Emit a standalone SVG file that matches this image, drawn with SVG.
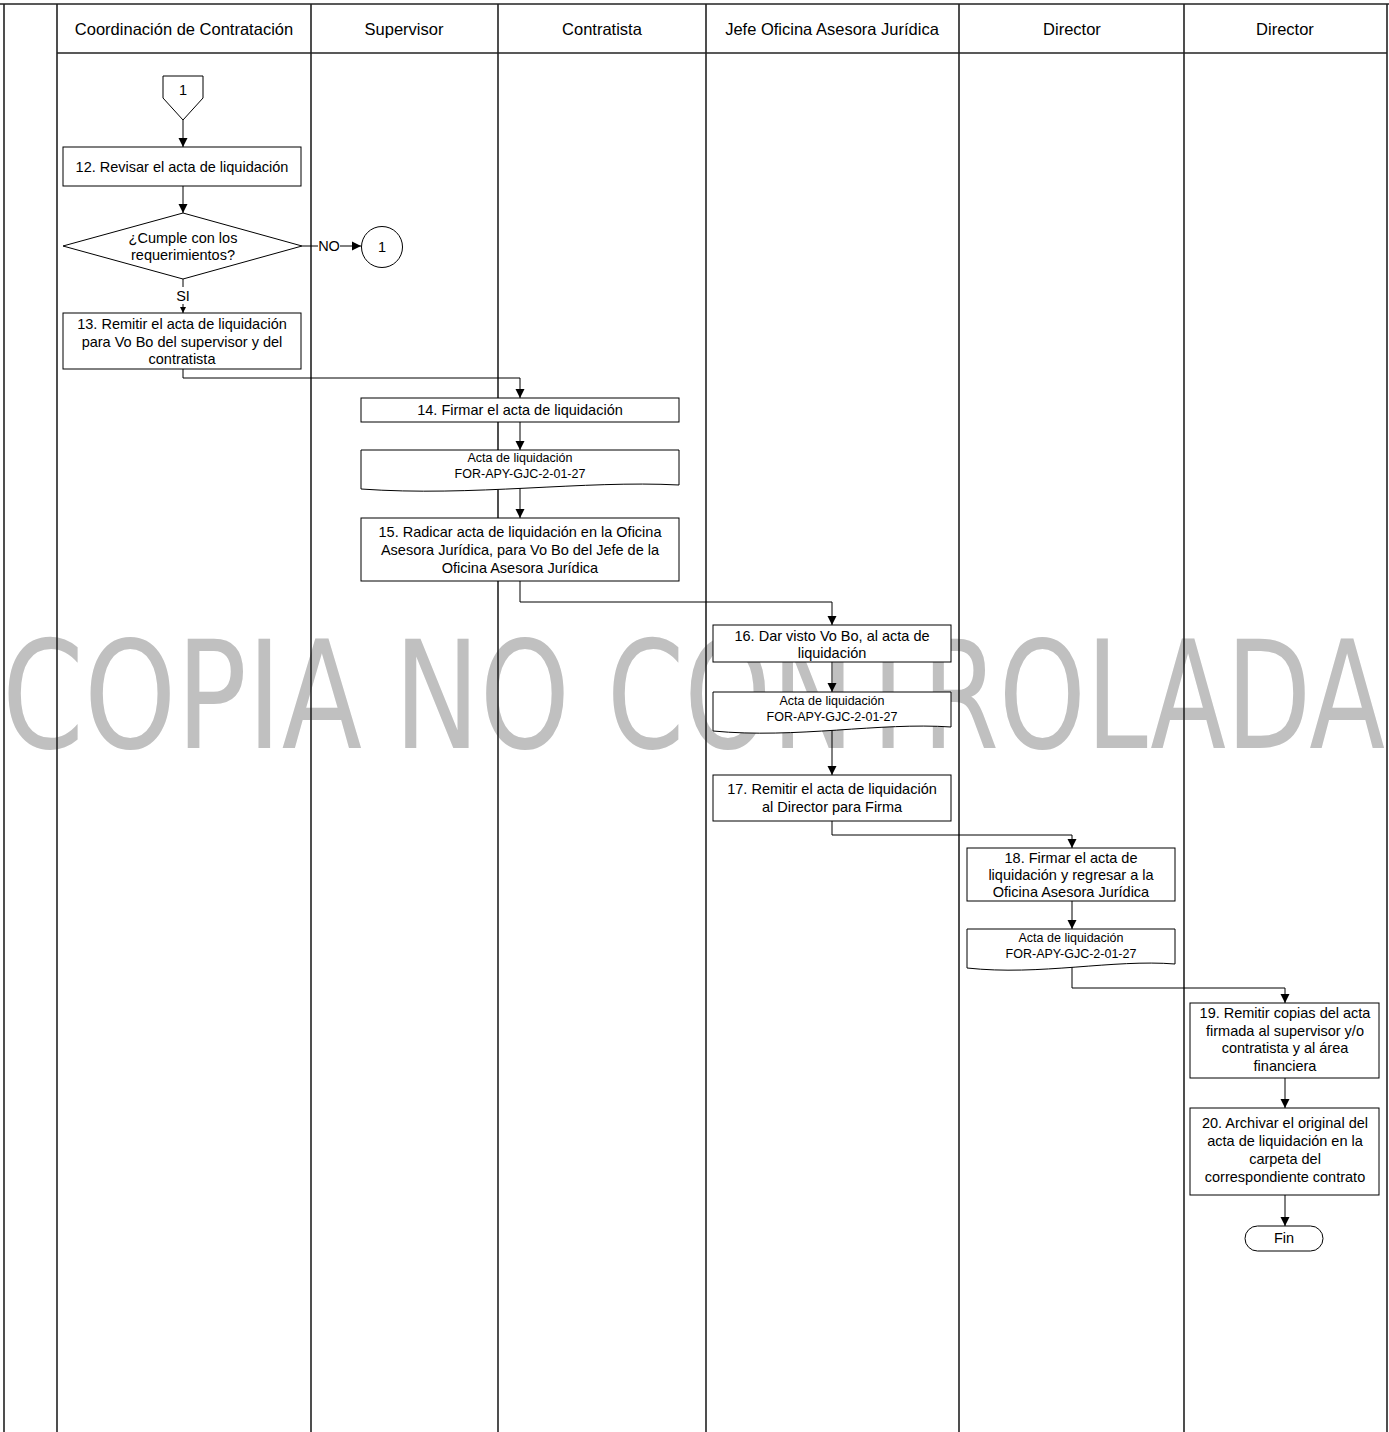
<svg xmlns="http://www.w3.org/2000/svg" width="1389" height="1432" viewBox="0 0 1389 1432">
<style>
.lane{stroke:#222;stroke-width:1.6;fill:none}
.hd{font-family:"Liberation Sans",Arial,sans-serif;font-size:16.5px;fill:#000;text-anchor:middle}
.box{fill:#fff;stroke:#000;stroke-width:1}
.t{font-family:"Liberation Sans",Arial,sans-serif;font-size:14.5px;fill:#000;text-anchor:middle}
.ts{font-family:"Liberation Sans",Arial,sans-serif;font-size:12.5px;fill:#000;text-anchor:middle}
.c{fill:none;stroke:#000;stroke-width:1}
.wm{font-family:"DejaVu Sans",Verdana,sans-serif;font-size:150px;fill:#c0c0c0}
</style>
<defs>
<marker id="arr" viewBox="0 0 10 10" refX="10" refY="5" markerWidth="9" markerHeight="10" markerUnits="userSpaceOnUse" orient="auto"><path d="M0,0 L10,5 L0,10 z" fill="#000"/></marker>
<marker id="arrs" viewBox="0 0 10 10" refX="10" refY="5" markerWidth="6" markerHeight="7" markerUnits="userSpaceOnUse" orient="auto"><path d="M0,0 L10,5 L0,10 z" fill="#000"/></marker>
</defs>
<rect x="0" y="0" width="1389" height="1432" fill="#fff"/>

<g id="watermark">
<text class="wm" x="2" y="748" textLength="360" lengthAdjust="spacingAndGlyphs">COPIA</text>
<text class="wm" x="394" y="748" textLength="176" lengthAdjust="spacingAndGlyphs">NO</text>
<text class="wm" x="607" y="748" textLength="778" lengthAdjust="spacingAndGlyphs">CONTROLADA</text>
</g>

<g id="lanes">
<line class="lane" x1="0" y1="4" x2="1389" y2="4" stroke-width="2"/>
<line class="lane" x1="57" y1="53" x2="1387" y2="53"/>
<line class="lane" x1="4" y1="4" x2="4" y2="1432"/>
<line class="lane" x1="57" y1="4" x2="57" y2="1432" stroke="#444" stroke-width="2.2"/>
<line class="lane" x1="311" y1="4" x2="311" y2="1432"/>
<line class="lane" x1="498" y1="4" x2="498" y2="1432"/>
<line class="lane" x1="706" y1="4" x2="706" y2="1432"/>
<line class="lane" x1="959" y1="4" x2="959" y2="1432"/>
<line class="lane" x1="1184" y1="4" x2="1184" y2="1432"/>
<line class="lane" x1="1387" y1="4" x2="1387" y2="1432"/>
<text class="hd" x="184" y="35">Coordinación de Contratación</text>
<text class="hd" x="404" y="35">Supervisor</text>
<text class="hd" x="602" y="35">Contratista</text>
<text class="hd" x="832" y="35">Jefe Oficina Asesora Jurídica</text>
<text class="hd" x="1072" y="35">Director</text>
<text class="hd" x="1285" y="35">Director</text>
</g>

<g id="connectors">
<line class="c" x1="183" y1="120" x2="183" y2="147" marker-end="url(#arr)"/>
<line class="c" x1="183" y1="186" x2="183" y2="213" marker-end="url(#arr)"/>
<line class="c" x1="302" y1="246" x2="361" y2="246" marker-end="url(#arr)"/>
<rect x="318" y="238" width="22" height="16" fill="#fff"/>
<text class="t" x="329" y="251">NO</text>
<line class="c" x1="183" y1="279" x2="183" y2="313" marker-end="url(#arrs)"/>
<rect x="172" y="287" width="22" height="17" fill="#fff"/>
<text class="t" x="183" y="301">SI</text>
<polyline class="c" points="183,369 183,378 520,378 520,398" marker-end="url(#arr)"/>
<line class="c" x1="520" y1="422" x2="520" y2="450" marker-end="url(#arr)"/>
<line class="c" x1="520" y1="487" x2="520" y2="518" marker-end="url(#arr)"/>
<polyline class="c" points="520,581 520,602 832,602 832,625" marker-end="url(#arr)"/>
<line class="c" x1="832" y1="662" x2="832" y2="692" marker-end="url(#arr)"/>
<line class="c" x1="832" y1="729" x2="832" y2="775" marker-end="url(#arr)"/>
<polyline class="c" points="832,821 832,835 1072,835 1072,848" marker-end="url(#arr)"/>
<line class="c" x1="1072" y1="901" x2="1072" y2="929" marker-end="url(#arr)"/>
<polyline class="c" points="1072,966 1072,988 1285,988 1285,1003" marker-end="url(#arr)"/>
<line class="c" x1="1285" y1="1078" x2="1285" y2="1108" marker-end="url(#arr)"/>
<line class="c" x1="1285" y1="1195" x2="1285" y2="1226" marker-end="url(#arr)"/>
</g>

<g id="n_offpage">
<polygon class="box" points="163,76 203,76 203,98 183,120 163,98"/>
<text class="t" x="183" y="95">1</text>
</g>
<g id="n12">
<rect class="box" x="63" y="147" width="238" height="39"/>
<text class="t" x="182" y="172">12. Revisar el acta de liquidación</text>
</g>
<g id="n_decision">
<polygon class="box" points="183,213 302,246 183,279 63,246"/>
<text class="t" x="183" y="243">¿Cumple con los</text>
<text class="t" x="183" y="260">requerimientos?</text>
</g>
<g id="n_conn1">
<circle class="box" cx="382" cy="247" r="20.5"/>
<text class="t" x="382" y="252">1</text>
</g>
<g id="n13">
<rect class="box" x="63" y="313" width="238" height="56"/>
<text class="t" x="182" y="329">13. Remitir el acta de liquidación</text>
<text class="t" x="182" y="347">para Vo Bo del supervisor y del</text>
<text class="t" x="182" y="364">contratista</text>
</g>
<g id="n14">
<rect class="box" x="361" y="398" width="318" height="24"/>
<text class="t" x="520" y="415">14. Firmar el acta de liquidación</text>
</g>
<g id="doc1">
<path class="box" d="M361,450 H679 V485 C584,480 472,497 361,489 Z"/>
<text class="ts" x="520" y="462">Acta de liquidación</text>
<text class="ts" x="520" y="478">FOR-APY-GJC-2-01-27</text>
</g>
<g id="n15">
<rect class="box" x="361" y="518" width="318" height="63"/>
<text class="t" x="520" y="537">15. Radicar acta de liquidación en la Oficina</text>
<text class="t" x="520" y="555">Asesora Jurídica, para Vo Bo del Jefe de la</text>
<text class="t" x="520" y="573">Oficina Asesora Jurídica</text>
</g>
<g id="n16">
<rect class="box" x="713" y="625" width="238" height="37"/>
<text class="t" x="832" y="641">16. Dar visto Vo Bo, al acta de</text>
<text class="t" x="832" y="658">liquidación</text>
</g>
<g id="doc2">
<path class="box" d="M713,692 H951 V727 C880,722 796,739 713,731 Z"/>
<text class="ts" x="832" y="705">Acta de liquidación</text>
<text class="ts" x="832" y="721">FOR-APY-GJC-2-01-27</text>
</g>
<g id="n17">
<rect class="box" x="713" y="775" width="238" height="46"/>
<text class="t" x="832" y="794">17. Remitir el acta de liquidación</text>
<text class="t" x="832" y="812">al Director para Firma</text>
</g>
<g id="n18">
<rect class="box" x="967" y="848" width="208" height="53"/>
<text class="t" x="1071" y="863">18. Firmar el acta de</text>
<text class="t" x="1071" y="880">liquidación y regresar a la</text>
<text class="t" x="1071" y="897">Oficina Asesora Jurídica</text>
</g>
<g id="doc3">
<path class="box" d="M967,929 H1175 V964 C1113,959 1040,976 967,968 Z"/>
<text class="ts" x="1071" y="942">Acta de liquidación</text>
<text class="ts" x="1071" y="958">FOR-APY-GJC-2-01-27</text>
</g>
<g id="n19">
<rect class="box" x="1190" y="1003" width="189" height="75"/>
<text class="t" x="1285" y="1018">19. Remitir copias del acta</text>
<text class="t" x="1285" y="1036">firmada al supervisor y/o</text>
<text class="t" x="1285" y="1053">contratista y al área</text>
<text class="t" x="1285" y="1071">financiera</text>
</g>
<g id="n20">
<rect class="box" x="1190" y="1108" width="189" height="87"/>
<text class="t" x="1285" y="1128">20. Archivar el original del</text>
<text class="t" x="1285" y="1146">acta de liquidación en la</text>
<text class="t" x="1285" y="1164">carpeta del</text>
<text class="t" x="1285" y="1182">correspondiente contrato</text>
</g>
<g id="n_fin">
<rect class="box" x="1245" y="1226" width="78" height="25" rx="12.5" ry="12.5"/>
<text class="t" x="1284" y="1243">Fin</text>
</g>
</svg>
